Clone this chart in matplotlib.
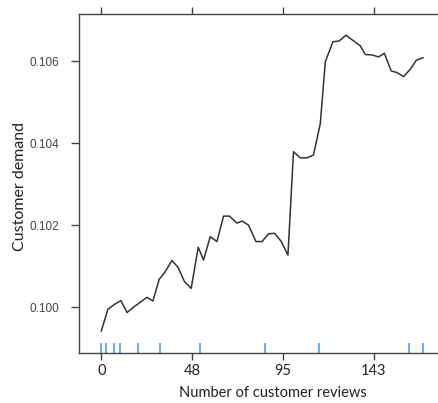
import matplotlib.pyplot as plt

# partial dependence curve
reviews = [0, 3.5, 7.3, 10.3, 13.5, 17.8, 24.0, 27.1, 30.4, 33.2, 37.1, 40.3, 43.7, 47.2,
           50.9, 53.7, 57.2, 60.7, 64.2, 67.3, 71.2, 73.9, 77.3, 81.2, 84.4, 87.8, 91.0,
           94.5, 98.0, 100.9, 104.5, 108.0, 111.4, 115.0, 117.6, 121.6, 124.9, 128.5,
           132.5, 136.0, 138.6, 142.1, 145.6, 148.6, 152.2, 155.2, 158.7, 162.2, 165.4, 168.9]
demand = [0.09942, 0.09995, 0.10008, 0.10016, 0.09987, 0.10003, 0.10024, 0.10015, 0.10068,
          0.10084, 0.10114, 0.10097, 0.10062, 0.10046, 0.10146, 0.10115, 0.10172, 0.10160,
          0.10222, 0.10222, 0.10205, 0.10210, 0.10200, 0.10160, 0.10160, 0.10179, 0.10180,
          0.10160, 0.10127, 0.10379, 0.10364, 0.10364, 0.10371, 0.10448, 0.10598, 0.10647,
          0.10649, 0.10663, 0.10649, 0.10637, 0.10616, 0.10615, 0.10610, 0.10619, 0.10576,
          0.10572, 0.10562, 0.10580, 0.10602, 0.10608]

# rug marks (observed data points)
rug_x = [0, 2.6, 6.8, 10, 19.4, 31, 52, 86, 114.5, 161.7, 168.9]

x_ticks = [0, 47.7, 95.3, 143]
x_labels = ["0", "48", "95", "143"]
y_ticks = [0.100, 0.102, 0.104, 0.106]

fig = plt.figure(figsize=(4.39, 4.03), dpi=100)
# axes box runs past the right edge of the picture, like the cropped original
ax = fig.add_axes([79 / 439, 50.3 / 403, (467 - 79) / 439, 338.4 / 403])

ax.plot(reviews, demand, color="#333333", lw=1.1)
ax.vlines(rug_x, 0, 0.03, transform=ax.get_xaxis_transform(), color="#4a9ff0", lw=1.2)

ax.set_xlim(-11.7, 192)
ax.set_ylim(0.09889, 0.10714)

for s in ax.spines.values():
    s.set_color("#444444")
    s.set_linewidth(1.0)

ax.set_xticks(x_ticks)
ax.set_xticklabels(x_labels, fontsize=10.5, family="Lato", color="#222222")
ax.set_yticks(y_ticks)
ax.set_yticklabels([f"{v:.3f}" for v in y_ticks], fontsize=8.5, family="Liberation Sans", color="#444444")
ax.tick_params(axis="x", direction="out", length=5, width=1, color="#444444", top=True, pad=3)
ax.tick_params(axis="y", direction="out", length=6, width=1, color="#444444", pad=8)

ax.set_xlabel("Number of customer reviews", fontsize=10.5, family="Lato", color="#222222", labelpad=6)
ax.set_ylabel("Customer demand", fontsize=11.5, family="Lato", color="#222222")
ax.yaxis.set_label_coords(-0.135, 0.49)

fig.savefig("out.png", dpi=100)
